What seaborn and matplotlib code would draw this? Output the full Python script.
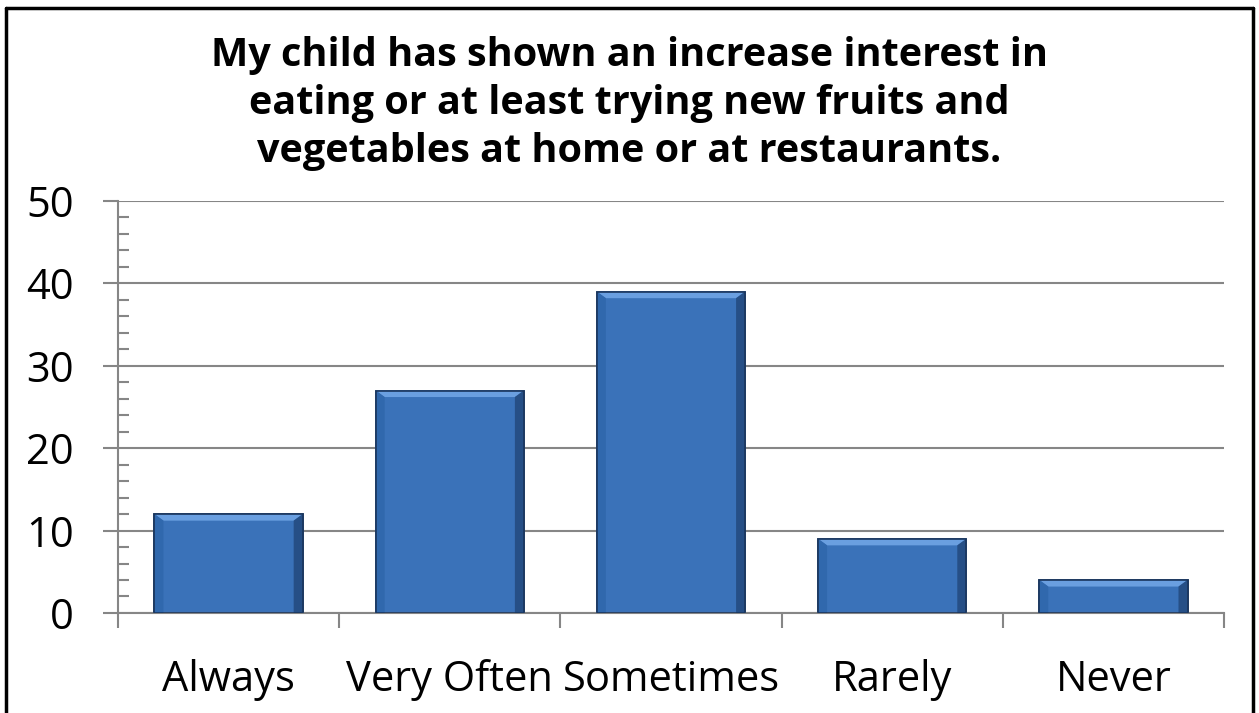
import matplotlib
matplotlib.use("Agg")
import matplotlib.pyplot as plt
import seaborn as sns
from matplotlib.patches import Polygon
from matplotlib.lines import Line2D

# survey answers and counts
categories = ["Always", "Very Often", "Sometimes", "Rarely", "Never"]
counts = [12, 27, 39, 9, 4]
title = ("My child has shown an increase interest in\n"
         "eating or at least trying new fruits and\n"
         "vegetables at home or at restaurants.")

sns.set_style("white")
plt.rcParams["font.family"] = ["Open Sans", "DejaVu Sans"]
plt.rcParams["text.color"] = "black"
plt.rcParams["xtick.labelcolor"] = "black"
plt.rcParams["ytick.labelcolor"] = "black"

fig = plt.figure(figsize=(12.59, 7.13), dpi=100)
ax = fig.add_axes([0.0937, 0.1403, 0.8785, 0.5778])

grey = "#868686"
ax.set_axisbelow(True)
sns.barplot(x=categories, y=counts, color="#3A72B9", width=0.67,
            edgecolor="#1A365E", linewidth=1.2, saturation=1, ax=ax, zorder=2)

# bevel effect on each bar, derived from the bar patches
fig.canvas.draw()
px_x = ax.transData.inverted().transform([(0, 0), (9, 8)])
bx = px_x[1][0] - px_x[0][0]
by = px_x[1][1] - px_x[0][1]
for p in ax.patches:
    x0, y0 = p.get_x(), p.get_y()
    x1, y1 = x0 + p.get_width(), y0 + p.get_height()
    top = Polygon([(x0, y1), (x1, y1), (x1 - bx, y1 - by), (x0 + bx, y1 - by)],
                  closed=True, facecolor="#6A9FE0", edgecolor="none", zorder=3)
    left = Polygon([(x0, y0), (x0, y1), (x0 + bx, y1 - by), (x0 + bx, y0)],
                   closed=True, facecolor="#3068AD", edgecolor="none", zorder=3)
    right = Polygon([(x1, y0), (x1, y1), (x1 - bx, y1 - by), (x1 - bx, y0)],
                    closed=True, facecolor="#264F86", edgecolor="none", zorder=3)
    for poly in (top, left, right):
        ax.add_patch(poly)
    ax.add_patch(plt.Rectangle((x0, y0), x1 - x0, y1 - y0, fill=False,
                               edgecolor="#1A365E", linewidth=1.2, zorder=4))

ax.set_ylim(0, 50)
ax.set_xlim(-0.5, len(categories) - 0.5)
ax.set_yticks(range(0, 51, 10))
ax.set_yticks(range(0, 51, 2), minor=True)
ax.set_xticks(range(len(categories)))
ax.set_xticks([i - 0.5 for i in range(len(categories) + 1)], minor=True)
ax.set_xticklabels(categories)

ax.yaxis.grid(True, which="major", color=grey, linewidth=1.5)
ax.xaxis.grid(False)
ax.tick_params(axis="y", which="major", direction="out", length=11, width=1.5,
               color=grey, labelsize=30, pad=21, left=True)
ax.tick_params(axis="y", which="minor", direction="in", length=8, width=1.5,
               color=grey, left=True)
ax.tick_params(axis="x", which="major", length=0, labelsize=30, pad=33)
ax.tick_params(axis="x", which="minor", direction="out", length=11, width=1.5,
               color=grey, bottom=True)

for s in ["top", "right"]:
    ax.spines[s].set_visible(False)
for s in ["left", "bottom"]:
    ax.spines[s].set_color(grey)
    ax.spines[s].set_linewidth(1.5)
ax.set_xlabel("")
ax.set_ylabel("")

fig.text(0.5, 0.95, title, ha="center", va="top", fontsize=28.5,
         fontweight="bold", linespacing=1.3, color="black")

# outer frame of the chart area
for xs, ys in [([0.005, 0.995], [0.989, 0.989]), ([0.005, 0.005], [0, 0.989]),
               ([0.995, 0.995], [0, 0.989])]:
    fig.add_artist(Line2D(xs, ys, color="black", linewidth=2.5,
                          transform=fig.transFigure))

fig.savefig("out.png", dpi=100)
